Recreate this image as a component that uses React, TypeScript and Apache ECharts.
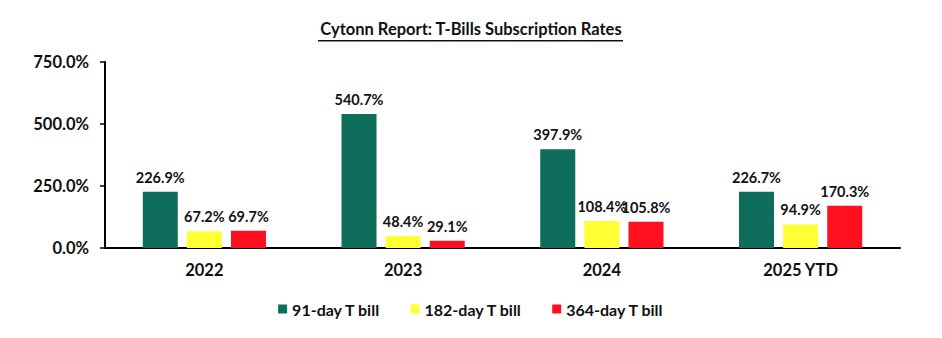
import React, { useEffect, useRef } from "react";
import * as echarts from "echarts";

const categories = ["2022", "2023", "2024", "2025 YTD"];
const seriesNames = ["91-day T bill", "182-day T bill", "364-day T bill"];
const bill91 = [226.9, 540.7, 397.9, 226.7];
const bill182 = [67.2, 48.4, 108.4, 94.9];
const bill364 = [69.7, 29.1, 105.8, 170.3];
const colors = ["#0F6D5B", "#FFFF33", "#FF1020"];
const yTicks = { min: 0, max: 750, interval: 250 };
const titleText = "Cytonn Report: T-Bills Subscription Rates";

const FONT = "Lato, 'Open Sans', sans-serif";
const FS = 16.5;

export default function App() {
  const ref = useRef<HTMLDivElement>(null);
  useEffect(() => {
    if (!ref.current) return;
    const chart = echarts.init(ref.current, undefined, { renderer: "svg" });
    const data = [bill91, bill182, bill364];
    chart.setOption({
      animation: false,
      backgroundColor: "#ffffff",
      textStyle: { fontFamily: FONT },
      title: {
        text: titleText,
        left: "center",
        top: 15,
        textStyle: { fontFamily: FONT, fontSize: FS, fontWeight: "bold", color: "#111" },
      },
      graphic: [
        {
          type: "rect",
          shape: { x: 318, y: 40, width: 305, height: 1.5 },
          style: { fill: "#111" },
        },
      ],
      legend: {
        bottom: 16,
        left: "center",
        itemWidth: 9,
        itemHeight: 9,
        itemGap: 30,
        icon: "rect",
        textStyle: { fontFamily: FONT, fontSize: 16, fontWeight: "bold", color: "#111" },
        data: seriesNames,
      },
      grid: { left: 105, right: 42, top: 62, bottom: 90, containLabel: false },
      xAxis: {
        type: "category",
        data: categories,
        axisLine: { lineStyle: { color: "#000", width: 2 } },
        axisTick: { show: false },
        axisLabel: { margin: 13, fontFamily: FONT, fontSize: FS, fontWeight: "bold", color: "#111" },
      },
      yAxis: {
        type: "value",
        min: yTicks.min,
        max: yTicks.max,
        interval: yTicks.interval,
        splitLine: { show: false },
        axisLine: { show: true, lineStyle: { color: "#000", width: 2 } },
        axisTick: { show: true, length: 5, lineStyle: { color: "#000", width: 1.5 } },
        axisLabel: {
          margin: 16,
          fontFamily: FONT,
          fontSize: FS,
          fontWeight: "bold",
          color: "#111",
          formatter: (v: number) => v.toFixed(1) + "%",
        },
      },
      series: seriesNames.map((name, i) => ({
        name,
        type: "bar",
        data: data[i],
        barGap: "26%",
        barCategoryGap: "38%",
        itemStyle: { color: colors[i] },
        label: {
          show: true,
          position: "top",
          distance: 7,
          fontFamily: FONT,
          fontSize: 14.5,
          fontWeight: "bold",
          color: "#111",
          formatter: (p: any) => p.value.toFixed(1) + "%",
        },
      })),
    });
    return () => chart.dispose();
  }, []);
  return (
    <div
      ref={ref}
      style={{ position: "absolute", left: 0, top: 0, width: 942, height: 338 }}
    />
  );
}
